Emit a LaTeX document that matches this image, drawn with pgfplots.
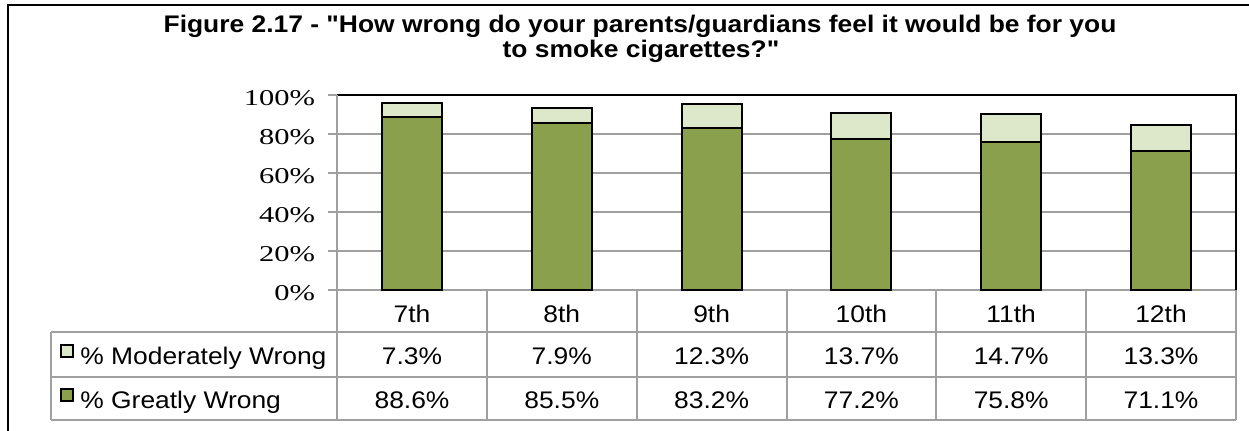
\documentclass[border=0pt]{standalone}
\usepackage{fontspec}
\setmainfont[FakeStretch=1.1, Ligatures=TeXOff]{Liberation Sans}
\newfontfamily\tickfont[FakeStretch=1.35]{Liberation Serif}
\usepackage{pgfplots}
\usepackage{pgfplotstable}
\pgfplotsset{compat=1.18}

\definecolor{greatly}{HTML}{8AA04C}
\definecolor{moderately}{HTML}{DDE7C9}
\definecolor{gridgray}{HTML}{A0A0A0}

% grade-level results
\pgfplotstableread{
idx greatly moderately
0   88.6    7.3
1   85.5    7.9
2   83.2    12.3
3   77.2    13.7
4   75.8    14.7
5   71.1    13.3
}\smoking

\begin{document}
\begin{tikzpicture}[x=0.5pt,y=-0.5pt]
\useasboundingbox (0,0) rectangle (1249,431);

% chart frame
\draw[black, line width=1pt] (8,445) -- (8,5) -- (1260,5);

% title
\node[anchor=base, font=\bfseries\fontsize{12}{14}\selectfont] at (640,33)
  {Figure 2.17 - "How wrong do your parents/guardians feel it would be for you};
\node[anchor=base, font=\bfseries\fontsize{12}{14}\selectfont] at (641,58)
  {to smoke cigarettes?"};

\begin{axis}[
  at={(168.5pt,-145pt)}, anchor=south west,
  scale only axis, width=449.5pt, height=97.5pt,
  xmin=-0.5, xmax=5.5, ymin=0, ymax=100,
  ybar stacked, bar width=30pt,
  axis line style={draw=none},
  xtick=\empty,
  ytick={0,20,40,60,80,100},
  yticklabels={0\%,20\%,40\%,60\%,80\%,100\%},
  ytick pos=left,
  tick align=outside,
  major tick length=4.5pt,
  y tick style={gridgray, line width=0.75pt},
  ymajorgrids,
  grid style={gridgray, line width=0.75pt},
  yticklabel style={font=\tickfont\fontsize{11.3}{13}\selectfont, anchor=east, xshift=-3pt, yshift=-1.5pt},
  /pgf/number format/assume math mode=true,
  clip=false,
]
\addplot[fill=greatly, draw=black, line width=1pt] table[x=idx, y=greatly] {\smoking};
\addplot[fill=moderately, draw=black, line width=1pt] table[x=idx, y=moderately] {\smoking};
\draw[gridgray, line width=0.75pt] (rel axis cs:0,0) -- (rel axis cs:0,1);
\draw[black, line width=1pt] (rel axis cs:0,1) -- (rel axis cs:1,1) -- (rel axis cs:1,0);
\end{axis}

% data table
\begin{scope}[gridgray, line width=0.75pt]
  \foreach \xx in {337,487,637,787,936,1086,1236}
    \draw (\xx,290) -- (\xx,420);
  \draw (51,332) -- (51,420);
  \foreach \yy in {332,377,420}
    \draw (51,\yy) -- (1236,\yy);
\end{scope}

\begin{scope}[font=\fontsize{12}{14}\selectfont]
  \foreach \lab [count=\i from 0] in {7th,8th,9th,10th,11th,12th}
    \node[anchor=base] at (412+149.8*\i,323) {\lab};
  \foreach \v [count=\i from 0] in {7.3,7.9,12.3,13.7,14.7,13.3}
    \node[anchor=base] at (412+149.8*\i,365) {\v\%};
  \foreach \v [count=\i from 0] in {88.6,85.5,83.2,77.2,75.8,71.1}
    \node[anchor=base] at (412+149.8*\i,409) {\v\%};
  \draw[black, line width=0.7pt, fill=moderately] (61,345) rectangle (73,357);
  \draw[black, line width=0.7pt, fill=greatly] (61,389) rectangle (73,401);
  \node[anchor=base west, inner sep=0pt] at (80,365) {\% Moderately Wrong};
  \node[anchor=base west, inner sep=0pt] at (80,409) {\% Greatly Wrong};
\end{scope}
\end{tikzpicture}
\end{document}
